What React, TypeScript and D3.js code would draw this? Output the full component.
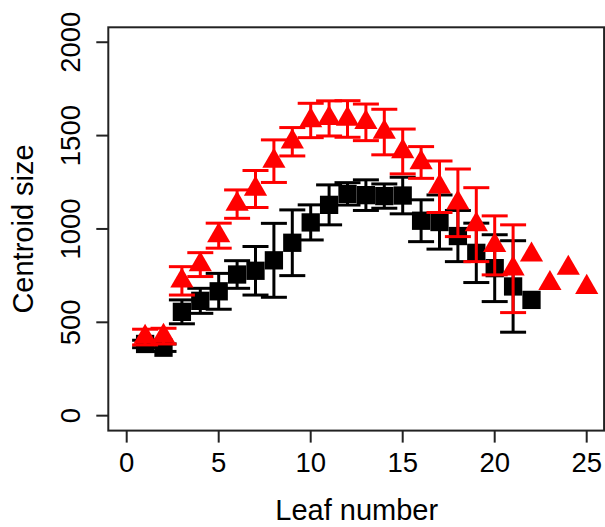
import React from "react";
import * as d3 from "d3";

const leavesA = [1, 2, 3, 4, 5, 6, 7, 8, 9, 10, 11, 12, 13, 14, 15, 16, 17, 18, 19, 20, 21, 22];
const meanA = [384, 364, 556, 615, 666, 756, 776, 832, 926, 1035, 1129, 1188, 1181, 1176, 1179, 1044, 1037, 962, 872, 790, 692, 620];
const errA = [20, 20, 64, 67, 96, 74, 130, 198, 176, 94, 107, 60, 82, 65, 98, 112, 145, 137, 159, 179, 245, 0];

const leavesB = [1, 2, 3, 4, 5, 6, 7, 8, 9, 10, 11, 12, 13, 14, 15, 16, 17, 18, 19, 20, 21, 22, 23, 24, 25];
const meanB = [421, 426, 722, 809, 964, 1133, 1214, 1363, 1467, 1581, 1592, 1589, 1571, 1519, 1415, 1356, 1226, 1140, 1023, 912, 787, 861, 709, 790, 688];
const errB = [42, 42, 76, 64, 67, 76, 99, 114, 76, 92, 94, 98, 98, 122, 120, 85, 138, 181, 198, 158, 235, 0, 0, 0, 0];

const xTicks = [0, 5, 10, 15, 20, 25];
const yTicks = [0, 500, 1000, 1500, 2000];

const W = 605;
const H = 527;
const FONT = "'Liberation Sans', Arial, Helvetica, sans-serif";

const triangleType = {
  draw(ctx: any, r: number) {
    const xc = r * Math.sqrt(3) / 2;
    ctx.moveTo(0, -r);
    ctx.lineTo(xc, r / 2);
    ctx.lineTo(-xc, r / 2);
    ctx.closePath();
  },
};
const squareType = {
  draw(ctx: any, s: number) {
    ctx.rect(-s / 2, -s / 2, s, s);
  },
};

export default function App() {
  const x = d3.scaleLinear().domain([-1, 26]).range([108.3, 605.1]);
  const y = d3.scaleLinear().domain([-80, 2080]).range([430.6, 27.3]);
  const tri = d3.symbol().type(triangleType as any).size(13.4)();
  const sq = d3.symbol().type(squareType as any).size(18.3)();
  const cap = 13;

  const errBars = (leaves: number[], means: number[], errs: number[], color: string, key: string) =>
    leaves.map((l, i) => {
      const e = errs[i];
      if (!e) return null;
      const cx = x(l);
      const y1 = y(means[i] + e);
      const y2 = y(means[i] - e);
      return (
        <g key={key + i} stroke={color} strokeWidth={3} fill="none">
          <line x1={cx} x2={cx} y1={y1} y2={y2} />
          <line x1={cx - cap} x2={cx + cap} y1={y1} y2={y1} />
          <line x1={cx - cap} x2={cx + cap} y1={y2} y2={y2} />
        </g>
      );
    });

  return (
    <svg
      width={W}
      height={H}
      style={{ position: "absolute", left: 0, top: 0, background: "#fff" }}
      fontFamily={FONT}
    >
      <rect x={0} y={0} width={W} height={H} fill="#fff" />
      {/* series A: black squares */}
      {errBars(leavesA, meanA, errA, "#000", "ea")}
      {leavesA.map((l, i) => (
        <path key={"a" + i} d={sq || ""} transform={`translate(${x(l)},${y(meanA[i])})`} fill="#000" />
      ))}
      {/* series B: red triangles */}
      {errBars(leavesB, meanB, errB, "#ff0000", "eb")}
      {leavesB.map((l, i) => (
        <path key={"b" + i} d={tri || ""} transform={`translate(${x(l)},${y(meanB[i])})`} fill="#ff0000" />
      ))}
      {/* box */}
      <rect
        x={x(-1)}
        y={y(2080)}
        width={x(26) - x(-1) - 1}
        height={y(-80) - y(2080)}
        fill="none"
        stroke="#222"
        strokeWidth={2}
      />
      {/* x axis */}
      {xTicks.map((t) => (
        <g key={"xt" + t}>
          <line x1={x(t)} x2={x(t)} y1={y(-80)} y2={y(-80) + 12} stroke="#222" strokeWidth={2} />
          <text x={x(t)} y={472} textAnchor="middle" fontSize={27.5} fill="#000">
            {t}
          </text>
        </g>
      ))}
      {/* y axis */}
      {yTicks.map((t) => (
        <g key={"yt" + t}>
          <line x1={x(-1)} x2={x(-1) - 12} y1={y(t)} y2={y(t)} stroke="#222" strokeWidth={2} />
          <text
            transform={`translate(80,${y(t)}) rotate(-90)`}
            textAnchor="middle"
            fontSize={27.5}
            fill="#000"
          >
            {t}
          </text>
        </g>
      ))}
      <text x={(x(-1) + x(26)) / 2} y={520} textAnchor="middle" fontSize={29} fill="#000">
        Leaf number
      </text>
      <text
        transform={`translate(33.3,${(y(-80) + y(2080)) / 2}) rotate(-90)`}
        textAnchor="middle"
        fontSize={29}
        fill="#000"
      >
        Centroid size
      </text>
    </svg>
  );
}
